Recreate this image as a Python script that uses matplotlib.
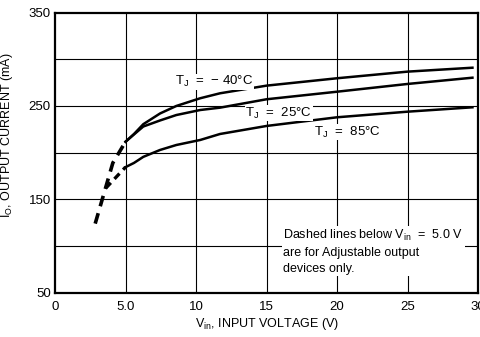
import matplotlib
matplotlib.use("Agg")
import matplotlib.pyplot as plt

plt.rcParams['font.family'] = ['Liberation Sans', 'DejaVu Sans']
plt.rcParams['mathtext.fontset'] = 'custom'
plt.rcParams['mathtext.rm'] = 'Liberation Sans'

# Data
vin = [5.0, 5.6, 6.26, 7.45, 8.6, 10.3, 11.7, 15, 20, 25, 29.6]
i_m40 = [211.7, 220.0, 230.5, 242.0, 250.0, 258.3, 263.6, 271.8, 279.7, 286.8, 291.0]
i_25 = [211.7, 219.5, 228.0, 234.5, 240.3, 245.7, 248.2, 257.2, 265.3, 273.6, 280.3]
i_85 = [184.5, 189.0, 195.5, 202.9, 208.2, 213.6, 220.0, 228.6, 237.9, 243.9, 248.6]

dash_v_a = [2.85, 4.1, 5.0]
dash_i_a = [124, 189, 211.7]
dash_v_b = [3.6, 5.0]
dash_i_b = [162, 184.5]

xticks = [0, 5, 10, 15, 20, 25, 30]
xticklabels = ['0', '5.0', '10', '15', '20', '25', '30']
yticks = [50, 150, 250, 350]
ygrid = [100, 150, 200, 250, 300]

fig = plt.figure(figsize=(4.8, 3.37), dpi=100)
ax = fig.add_axes([0.1146, 0.1315, 0.8814, 0.831])
ax.set_xlim(0, 30)
ax.set_ylim(50, 350)

for x in xticks[1:-1]:
    ax.axvline(x, color='black', lw=0.8, zorder=1)
for y in ygrid:
    ax.axhline(y, color='black', lw=0.8, zorder=1)

for s in ax.spines.values():
    s.set_linewidth(1.6)

ax.plot(vin, i_m40, color='black', lw=1.8, zorder=3, solid_joinstyle='round')
ax.plot(vin, i_25, color='black', lw=1.8, zorder=3, solid_joinstyle='round')
ax.plot(vin, i_85, color='black', lw=1.8, zorder=3, solid_joinstyle='round')
ax.plot(dash_v_a, dash_i_a, color='black', lw=2.6, ls=(0, (3, 2)), zorder=3)
ax.plot(dash_v_b, dash_i_b, color='black', lw=2.4, ls=(0, (2.2, 1.6)), zorder=3)

ax.set_xticks(xticks)
ax.set_xticklabels(xticklabels)
ax.set_yticks(yticks)
ax.tick_params(length=0, labelsize=9.5)
ax.tick_params(axis='y', pad=3)
ax.tick_params(axis='x', pad=6)

tkw = dict(fontsize=9.5, va='center', ha='left', zorder=4,
           bbox=dict(facecolor='white', edgecolor='none', pad=0.5))
ax.text(8.5, 276, r'T$_\mathregular{J}$  =  − 40°C', **tkw)
ax.text(13.5, 242.5, r'T$_\mathregular{J}$  =  25°C', **tkw)
ax.text(18.4, 222, r'T$_\mathregular{J}$  =  85°C', **tkw)
ax.text(16.2, 119, 'Dashed lines below V$_\\mathregular{in}$  =  5.0 V\nare for Adjustable output\ndevices only.',
        fontsize=9, va='top', ha='left', zorder=4, linespacing=1.4,
        bbox=dict(facecolor='white', edgecolor='none', pad=1))

ax.set_xlabel(r'V$_\mathregular{in}$, INPUT VOLTAGE (V)', fontsize=9)
ax.xaxis.set_label_coords(0.5, -0.085)
ax.set_ylabel(r'I$_\mathregular{O}$, OUTPUT CURRENT (mA)', fontsize=9)
ax.yaxis.set_label_coords(-0.094, 0.563)

fig.savefig('out.png', dpi=100)
